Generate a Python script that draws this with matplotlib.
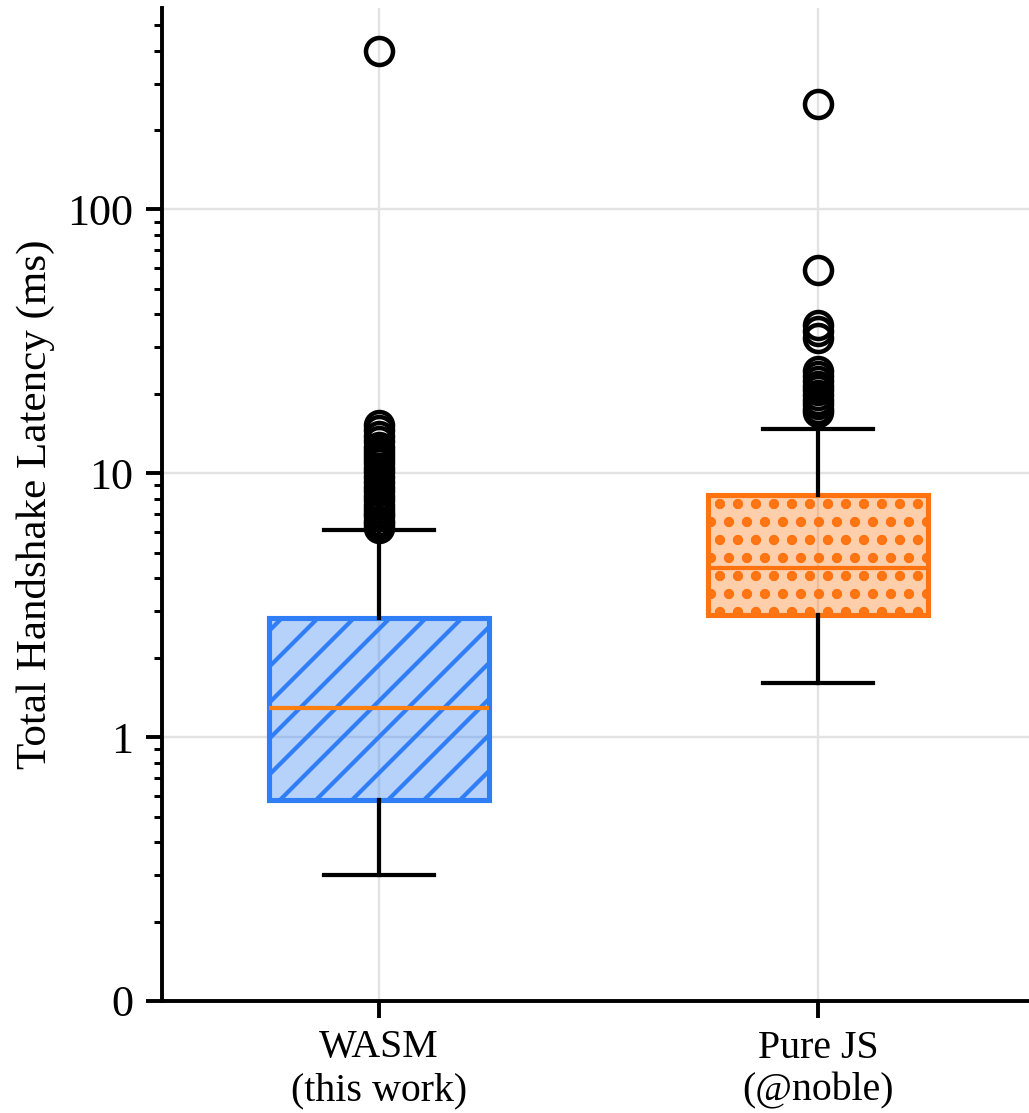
import matplotlib.pyplot as plt
from matplotlib.ticker import FixedLocator, LogLocator, FuncFormatter

plt.rcParams['font.family'] = ['Liberation Serif', 'DejaVu Serif']
plt.rcParams['font.size'] = 13.3
plt.rcParams['hatch.linewidth'] = 1.4

# Box statistics (ms)
labels = ['WASM\n(this work)', 'Pure JS\n(@noble)']
medians = [1.29, 4.37]
q1 = [0.58, 2.90]
q3 = [2.82, 8.26]
whis_lo = [0.30, 1.60]
whis_hi = [6.08, 14.7]
wasm_fliers = [6.2, 6.4, 6.6, 6.9, 7.1, 7.3, 7.6, 7.9, 8.2, 8.6, 8.9, 9.3,
               9.7, 10.1, 10.5, 10.9, 11.3, 11.7, 12.1, 12.6, 13.2, 13.9,
               14.6, 15.3, 400]
js_fliers = [17.0, 17.6, 18.3, 19.0, 19.8, 20.6, 21.5, 22.4, 23.3, 24.4,
             32.5, 34.5, 36.5, 59, 250]
fliers = [wasm_fliers, js_fliers]

edge_colors = ['#2f7ef6', '#ff7410']
hatches = ['//', '..']
hatch_widths = [1.4, 2.2]

stats = []
for i in range(len(labels)):
    stats.append({'label': labels[i], 'med': medians[i], 'q1': q1[i], 'q3': q3[i],
                  'whislo': whis_lo[i], 'whishi': whis_hi[i], 'fliers': fliers[i]})

fig = plt.figure(figsize=(1029 / 216, 1113 / 216), dpi=216)
ax = fig.add_axes([162 / 1029, 112 / 1113, 867 / 1029, 993 / 1113])

bp = ax.bxp(stats, widths=0.5, patch_artist=True,
            whiskerprops=dict(color='black', linewidth=1.4),
            capprops=dict(color='black', linewidth=1.4),
            medianprops=dict(color='#ff7f0e', linewidth=1.4),
            flierprops=dict(marker='o', markersize=9, markerfacecolor='none',
                            markeredgecolor='black', markeredgewidth=1.5))

for box, ec, h, hw in zip(bp['boxes'], edge_colors, hatches, hatch_widths):
    box.set_facecolor(ec + '59')
    box.set_edgecolor(ec)
    box.set_linewidth(1.7)
    box.set_hatch(h)
    if hasattr(box, 'set_hatch_linewidth'):
        box.set_hatch_linewidth(hw)
bp['medians'][1].set_color(edge_colors[1])

ax.set_yscale('log')
ax.set_ylim(0.1, 580)
ax.set_xlim(0.506, 2.48)
ax.yaxis.set_major_locator(FixedLocator([0.1, 1, 10, 100]))
ax.yaxis.set_minor_locator(LogLocator(base=10, subs=range(2, 10)))
ax.yaxis.set_major_formatter(FuncFormatter(lambda v, _: f'{v:.0f}'))
ax.yaxis.set_minor_formatter(FuncFormatter(lambda v, _: ''))

ax.set_ylabel('Total Handshake Latency (ms)', fontsize=14.4, labelpad=4)
ax.grid(True, which='major', color='#e3e3e3', linewidth=0.8)
ax.set_axisbelow(True)

ax.spines['top'].set_visible(False)
ax.spines['right'].set_visible(False)
ax.spines['left'].set_linewidth(1.3)
ax.spines['bottom'].set_linewidth(1.3)
ax.tick_params(axis='both', which='major', length=5.5, width=1.3, pad=4)
ax.tick_params(axis='y', which='major', labelsize=14.7)
ax.tick_params(axis='y', which='minor', length=2.8, width=1.0)

fig.savefig('out.png', dpi=216)
